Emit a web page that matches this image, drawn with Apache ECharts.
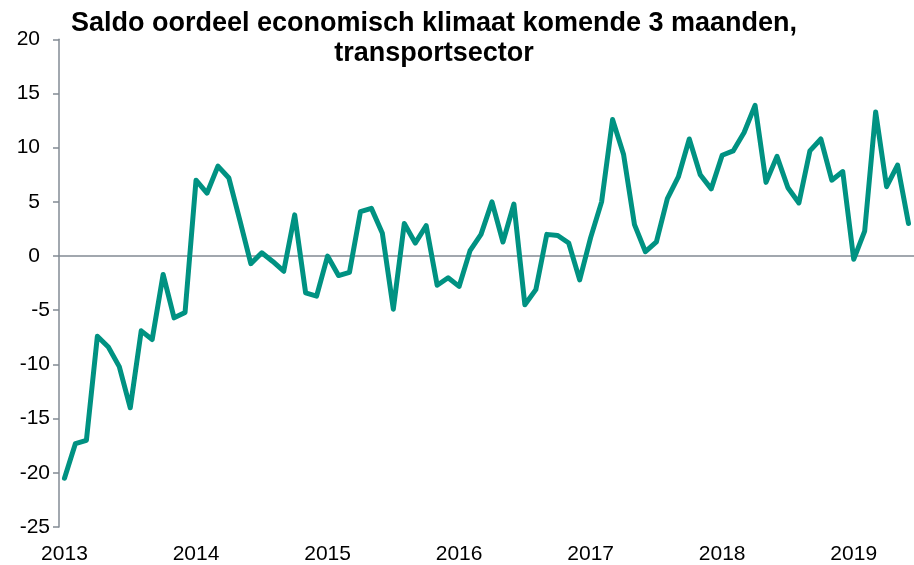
<!DOCTYPE html>
<html>
<head>
<meta charset="utf-8">
<script src="https://cdn.jsdelivr.net/npm/echarts@6/dist/echarts.min.js"></script>
<style>
  html, body { margin: 0; padding: 0; background: #fff; }
  #chart { width: 914px; height: 565px; }
</style>
</head>
<body>
<div id="chart"></div>
<script>
// maandreeks jan 2013 t/m jun 2019
const years = [2013, 2014, 2015, 2016, 2017, 2018, 2019]
const monthsPerYear = 12
const lastMonths = 6
const categories = []
years.forEach(function (y, yi) {
  const n = yi === years.length - 1 ? lastMonths : monthsPerYear
  for (let m = 1; m <= n; m++) categories.push(y + '-' + (m < 10 ? '0' + m : m))
})

// saldo oordeel economisch klimaat, transportsector
const saldo = [
  -20.5, -17.3, -17.0, -7.4, -8.4, -10.2, -14.0, -6.9, -7.7, -1.7, -5.7, -5.2,
  7.0, 5.8, 8.3, 7.2, 3.3, -0.7, 0.3, -0.5, -1.4, 3.8, -3.4, -3.7,
  0.0, -1.8, -1.5, 4.1, 4.4, 2.1, -4.9, 3.0, 1.2, 2.8, -2.7, -2.0,
  -2.8, 0.5, 2.0, 5.0, 1.3, 4.8, -4.5, -3.1, 2.0, 1.9, 1.2, -2.2,
  1.7, 5.0, 12.6, 9.4, 2.9, 0.4, 1.3, 5.3, 7.3, 10.8, 7.5, 6.2,
  9.3, 9.7, 11.4, 13.9, 6.8, 9.2, 6.3, 4.9, 9.7, 10.8, 7.0, 7.8,
  -0.3, 2.3, 13.3, 6.4, 8.4, 3.0
]

const yTicks = { min: -25, max: 20, interval: 5 }

const font = 'Arial, "Liberation Sans", sans-serif'
const axisGrey = '#838b94'
const teal = '#009282'

const chart = echarts.init(document.getElementById('chart'))
const yearStart = function (index) { return index % 12 === 0 }

chart.setOption({
  animation: false,
  backgroundColor: '#fff',
  title: {
    text: 'Saldo oordeel economisch klimaat komende 3 maanden,\ntransportsector',
    left: 429,
    top: 4,
    textAlign: 'center',
    textStyle: {
      fontFamily: font,
      fontSize: 27,
      fontWeight: 'bold',
      color: '#000',
      lineHeight: 30
    }
  },
  grid: { left: 59, top: 39.3, width: 858, height: 490.7 },
  xAxis: [
    {
      type: 'category',
      data: categories,
      boundaryGap: true,
      axisLine: { onZero: true, lineStyle: { color: axisGrey, width: 1.5 } },
      axisTick: { interval: yearStart, length: 6, lineStyle: { color: axisGrey, width: 1.5 } },
      axisLabel: { show: false }
    },
    {
      type: 'category',
      data: categories,
      position: 'bottom',
      boundaryGap: true,
      axisLine: { show: false, onZero: false },
      axisTick: { show: false },
      axisLabel: {
        interval: yearStart,
        margin: 17,
        fontFamily: font,
        fontSize: 21,
        color: '#000',
        formatter: function (v) { return v.slice(0, 4) }
      }
    }
  ],
  yAxis: {
    type: 'value',
    min: yTicks.min,
    max: yTicks.max,
    interval: yTicks.interval,
    splitLine: { show: false },
    axisLine: { show: true, lineStyle: { color: axisGrey, width: 1.5 } },
    axisTick: { show: true, length: 6, lineStyle: { color: axisGrey, width: 1.5 } },
    axisLabel: {
      margin: 9,
      // positieve waarden krijgen ruimte rechts (zoals Excel)
      formatter: function (v) { return v < 0 ? '{n|' + v + '}' : '{p|' + v + '}' },
      rich: {
        n: { fontFamily: font, fontSize: 21, color: '#000' },
        p: { fontFamily: font, fontSize: 21, color: '#000', padding: [0, 10, 0, 0] }
      }
    }
  },
  series: [{
    type: 'line',
    data: saldo,
    xAxisIndex: 0,
    showSymbol: false,
    symbol: 'none',
    lineStyle: { color: teal, width: 5, cap: 'round', join: 'round' }
  }]
})
</script>
</body>
</html>
